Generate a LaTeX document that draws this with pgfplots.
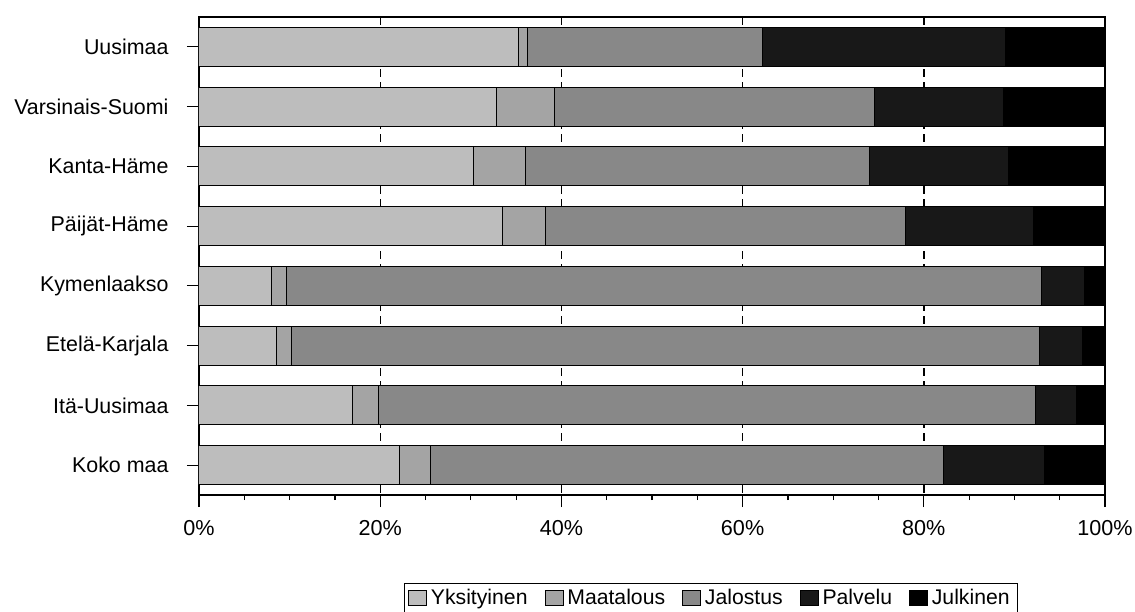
\documentclass[border=0pt]{standalone}
\usepackage{pgfplots}
\pgfplotsset{compat=1.18}
\usepackage{pgfplotstable}
\usepackage{fontspec}
\setmainfont{Liberation Sans}
\definecolor{cY}{HTML}{BDBDBD}
\definecolor{cM}{HTML}{A4A4A4}
\definecolor{cJ}{HTML}{888888}
\definecolor{cP}{HTML}{181818}
\definecolor{cU}{HTML}{000000}
\pgfplotstableread{
idx Y M J P Ju
0 35.3 1.0 25.9 26.8 11.0
1 32.8 6.4 35.4 14.2 11.2
2 30.3 5.7 38.0 15.4 10.6
3 33.5 4.7 39.8 14.1 7.9
4 8.0 1.7 83.3 4.7 2.3
5 8.6 1.6 82.6 4.7 2.5
6 16.9 2.9 72.5 4.5 3.2
7 22.1 3.4 56.7 11.1 6.7
}\datatable
\begin{document}
\fontsize{10.7}{12.8}\selectfont
\begin{tikzpicture}
\useasboundingbox (0,0) rectangle (567.5pt,305.5pt);
\begin{axis}[
  at={(99.5pt,58pt)}, anchor=south west,
  scale only axis, width=453pt, height=239pt,
  xbar stacked, bar width=0.65,
  xmin=0, xmax=100, ymin=-0.5, ymax=7.5, y dir=reverse,
  ytick={0,...,7},
  yticklabels={Uusimaa,Varsinais-Suomi,Kanta-Häme,Päijät-Häme,Kymenlaakso,Etelä-Karjala,Itä-Uusimaa,Koko maa},
  xtick={0,20,...,100},
  xticklabels={0\%,20\%,40\%,60\%,80\%,100\%},
  minor x tick num=3,
  tick align=outside, major tick length=6pt, minor tick length=2.5pt,
  xtick pos=bottom, ytick pos=left,
  xmajorgrids,
  major x grid style={black, dash pattern=on 4pt off 2.5pt, line width=0.7pt},
  axis line style={line width=0.6pt},
  every tick/.style={black, line width=0.6pt},
  yticklabel style={xshift=-5.5pt, font=\fontsize{10.7}{12.8}\selectfont},
  xticklabel style={yshift=-3pt, font=\fontsize{10.8}{13}\selectfont},
  legend style={at={(0.565,-0.2165)}, anchor=center, legend columns=5,
    draw=black, line width=0.5pt, inner xsep=2pt, inner ysep=1pt,
    font=\fontsize{10.6}{12.7}\selectfont,
    /tikz/every even column/.append style={column sep=6.5pt}},
  legend image code/.code={\draw[#1, draw=black, line width=0.4pt] (0pt,-3.5pt) rectangle (9pt,4pt);},
]
\addplot[fill=cY, draw=black, line width=0.5pt] table[x=Y, y=idx] {\datatable};
\addplot[fill=cM, draw=black, line width=0.5pt] table[x=M, y=idx] {\datatable};
\addplot[fill=cJ, draw=black, line width=0.5pt] table[x=J, y=idx] {\datatable};
\addplot[fill=cP, draw=black, line width=0.5pt] table[x=P, y=idx] {\datatable};
\addplot[fill=cU, draw=black, line width=0.5pt] table[x=Ju, y=idx] {\datatable};
\legend{Yksityinen,Maatalous,Jalostus,Palvelu,Julkinen}
\end{axis}
\end{tikzpicture}
\end{document}
